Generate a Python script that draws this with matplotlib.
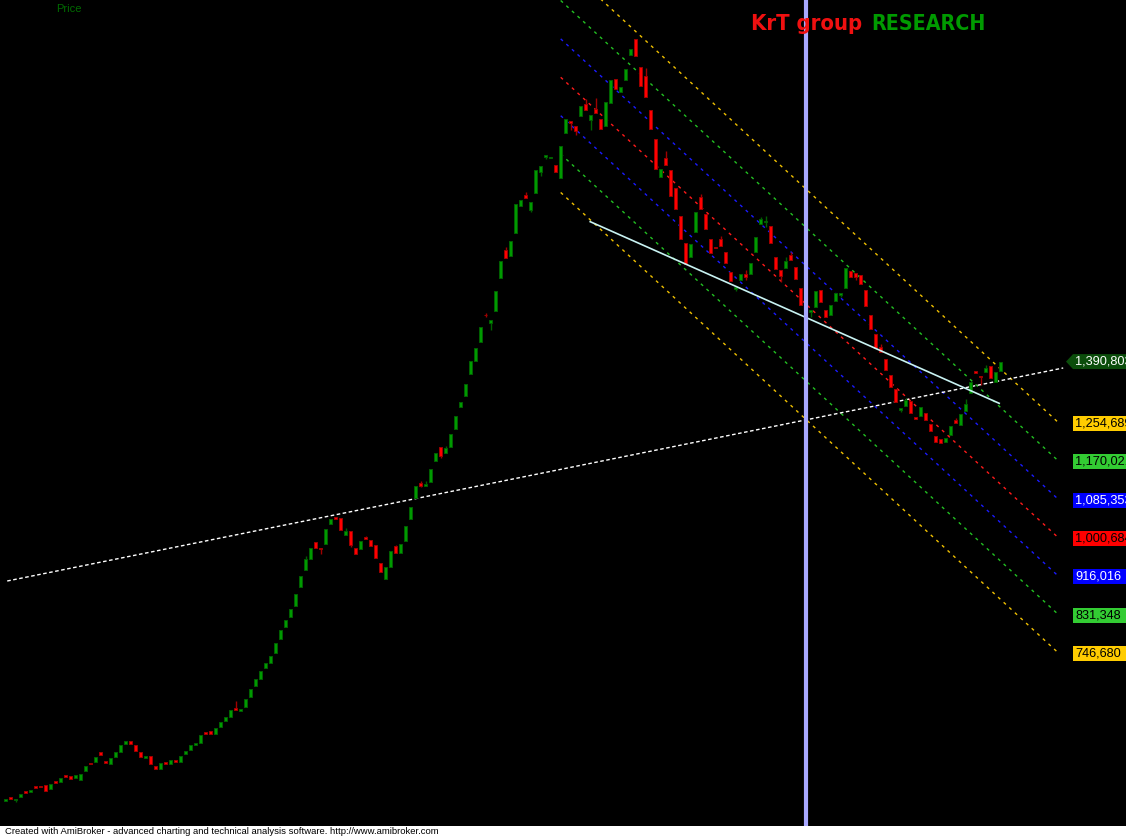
import matplotlib
matplotlib.use("Agg")
import matplotlib.pyplot as plt
from matplotlib import font_manager
from matplotlib.patches import Rectangle, Polygon
from matplotlib.transforms import blended_transform_factory

# ── data (prices in thousands) ───────────────────────────────────────────────

opens = [
    423.0, 430.1, 424.1, 431.4, 443.3, 441.1, 455.0, 455.0, 456.5, 449.0,
    466.0, 464.5, 478.6, 476.4, 473.3, 467.5, 488.7, 506.3, 508.5, 529.9,
    510.1, 504.1, 518.3, 530.6, 546.9, 553.5, 544.7, 529.3, 517.4, 521.1,
    499.1, 493.1, 507.9, 502.8, 512.3, 508.5, 524.9, 535.0, 546.0, 550.5,
    574.0, 575.6, 570.3, 585.7, 599.0, 607.8, 627.6, 621.0, 628.5, 651.9,
    676.1, 690.2, 714.5, 726.8, 748.9, 779.8, 804.9, 828.3, 852.5, 893.1,
    931.9, 956.2, 993.0, 979.8, 989.2, 1033.3, 1047.5, 1045.3, 1009.1, 1016.5,
    979.1, 978.2, 1004.0, 997.4, 986.4, 946.7, 912.1, 938.5, 984.2, 969.4,
    995.9, 1044.4, 1090.7, 1123.7, 1117.2, 1126.0, 1172.3, 1201.8, 1189.9, 1203.1,
    1242.8, 1291.3, 1315.6, 1364.1, 1392.8, 1434.7, 1494.2, 1476.5, 1503.0, 1575.8,
    1636.8, 1623.6, 1675.0, 1734.5, 1758.1, 1725.0, 1763.2, 1808.8, 1842.6, 1840.4,
    1824.3, 1796.3, 1894.2, 1921.3, 1910.3, 1933.0, 1958.8, 1923.5, 1947.8, 1925.0,
    1910.3, 1961.6, 2013.9, 1985.9, 2011.7, 2067.5, 2102.1, 2040.4, 2021.2, 1945.5,
    1881.6, 1797.8, 1839.7, 1813.2, 1773.6, 1711.8, 1652.9, 1622.1, 1675.9, 1753.1,
    1715.6, 1661.1, 1643.5, 1661.1, 1632.4, 1587.7, 1551.5, 1571.4, 1583.3, 1584.6,
    1633.1, 1694.8, 1697.9, 1689.1, 1620.7, 1592.7, 1596.5, 1625.8, 1598.7, 1552.4,
    1497.9, 1500.8, 1511.8, 1548.6, 1504.5, 1494.2, 1525.1, 1537.6, 1553.7, 1590.5,
    1585.5, 1581.7, 1548.6, 1493.5, 1451.6, 1423.6, 1396.5, 1361.2, 1330.4, 1284.0,
    1293.5, 1303.9, 1268.0, 1271.5, 1276.8, 1253.2, 1226.7, 1219.4, 1214.1, 1229.6,
    1262.0, 1251.6, 1281.8, 1320.9, 1370.0, 1359.0, 1368.5, 1380.4, 1346.5, 1370.7,
]

closes = [
    426.3, 425.6, 427.0, 438.0, 438.9, 446.1, 451.2, 452.8, 444.6, 459.4,
    461.0, 471.9, 474.8, 471.1, 478.6, 481.4, 498.4, 502.8, 518.3, 524.0,
    505.0, 516.0, 529.3, 544.7, 554.2, 548.2, 532.8, 518.3, 520.5, 502.8,
    493.1, 505.7, 502.8, 511.6, 507.2, 521.1, 532.1, 545.4, 549.1, 567.4,
    570.3, 569.0, 582.9, 595.4, 606.4, 622.5, 623.2, 625.4, 646.1, 668.2,
    690.2, 707.9, 725.5, 741.0, 769.6, 798.3, 820.3, 844.6, 877.7, 918.0,
    954.8, 979.1, 979.8, 976.9, 1021.0, 1043.0, 1044.4, 1020.1, 1017.2, 986.4,
    967.2, 995.2, 999.6, 984.8, 958.4, 926.2, 937.2, 972.5, 969.4, 987.9,
    1028.3, 1069.5, 1116.5, 1117.2, 1120.2, 1154.0, 1188.6, 1183.3, 1200.3, 1231.1,
    1270.8, 1301.7, 1341.4, 1392.1, 1420.8, 1467.1, 1492.9, 1482.5, 1546.4, 1612.6,
    1619.9, 1656.7, 1738.3, 1747.1, 1752.2, 1742.7, 1813.2, 1822.1, 1846.3, 1842.6,
    1809.5, 1866.2, 1925.7, 1916.2, 1899.9, 1954.4, 1945.5, 1934.5, 1939.6, 1903.7,
    1963.9, 2011.7, 1991.9, 1996.9, 2035.3, 2080.7, 2065.3, 1998.5, 1974.9, 1903.0,
    1814.8, 1815.5, 1824.9, 1756.6, 1726.6, 1661.8, 1606.6, 1650.1, 1720.0, 1727.9,
    1683.8, 1630.9, 1640.6, 1646.3, 1607.5, 1569.1, 1555.9, 1583.9, 1578.0, 1607.5,
    1664.9, 1704.5, 1700.8, 1651.6, 1594.3, 1580.2, 1612.6, 1614.8, 1572.2, 1514.9,
    1492.0, 1504.5, 1546.4, 1522.9, 1489.8, 1515.6, 1541.4, 1541.4, 1597.2, 1578.0,
    1577.3, 1561.2, 1514.0, 1462.0, 1420.1, 1411.3, 1372.9, 1335.4, 1301.0, 1288.5,
    1306.1, 1278.1, 1263.5, 1290.7, 1262.7, 1238.4, 1214.1, 1211.9, 1223.0, 1248.8,
    1256.0, 1275.2, 1297.3, 1345.8, 1366.3, 1356.1, 1376.7, 1355.3, 1367.2, 1390.8,
]

# shadows that stick out of the body
wick_high = {
    46: 642.4, 60: 962.1, 68: 1023.9, 72: 1006.9, 78: 987.0, 83: 1127.5,
    84: 1128.2, 88: 1204.7, 96: 1497.9, 100: 1644.1, 104: 1765.4, 116: 1969.1,
    118: 1972.7, 128: 2038.8, 132: 1855.1, 139: 1760.3, 143: 1667.7, 148: 1592.7,
    151: 1708.9, 152: 1711.8, 156: 1620.7, 157: 1633.1, 175: 1429.6, 180: 1309.8,
    190: 1265.7, 192: 1307.6, 196: 1383.3,
}
wick_low = {
    2: 420.8, 63: 966.5, 69: 982.6, 83: 1114.3, 87: 1178.2, 96: 1489.1,
    97: 1460.4, 105: 1721.3, 107: 1800.7, 108: 1836.8, 113: 1901.5, 114: 1890.4,
    117: 1901.5, 146: 1547.1, 148: 1570.7, 152: 1688.2, 155: 1566.9, 161: 1489.8,
    167: 1533.9, 170: 1570.7, 179: 1280.3, 195: 1339.2,
}

# standard deviation channel
channel_bars = [111, 210.7]
channel_start = [2271.7, 2187.0, 2102.4, 2017.7, 1933.0, 1848.4, 1763.7]
channel_end = [1254.689, 1170.021, 1085.353, 1000.684, 916.016, 831.348, 746.680]
channel_labels = ["1,254,689", "1,170,021", "1,085,353", "1,000,684",
                  "916,016", "831,348", "746,680"]
channel_colors = ["#f0c000", "#22c022", "#1a1aff", "#ff1a1a",
                  "#1a1aff", "#22c022", "#f0c000"]
label_bg = ["#ffcc00", "#33cc33", "#0000ff", "#ff0000",
            "#0000ff", "#33cc33", "#ffcc00"]
label_fg = ["black", "black", "white", "black", "white", "black", "black"]

# long dotted trend line and short solid line
trend_bars = [0.3, 211.5]
trend_vals = [907.0, 1376.7]
cyan_bars = [116.9, 198.7]
cyan_vals = [1699.3, 1298.8]

marker_bar = 160
last_value = 1390.8
last_label = "1,390,803"

UP_BODY, UP_EDGE = "#009a00", "#006000"
DN_BODY, DN_EDGE = "#ff0000", "#a00000"


def _title_font():
    """Pick the narrowest bold face that is installed."""
    fonts = font_manager.fontManager.ttflist
    for f in fonts:
        if f.name == "Liberation Sans Narrow":
            return dict(family="Liberation Sans Narrow")
    for f in fonts:
        if f.name == "DejaVu Sans" and "condensed" in str(f.stretch):
            return dict(family="DejaVu Sans", fontstretch="condensed")
    return dict(family="Roboto")


# ── figure ───────────────────────────────────────────────────────────────────

W, H = 1126, 839
fig = plt.figure(figsize=(W / 100, H / 100), dpi=100, facecolor="white")
ax = fig.add_axes([0, 13 / H, 1, 826 / H])
ax.set_facecolor("black")
ax.set_xlim(-1.14, 224.06)
ax.set_ylim(366.8, 2188.1)
ax.set_xticks([])
ax.set_yticks([])
for s in ax.spines.values():
    s.set_visible(False)

# channel lines
for s0, s1, col in zip(channel_start, channel_end, channel_colors):
    ax.plot(channel_bars, [s0, s1], color=col, lw=1.0,
            linestyle=(0, (2.2, 3.3)), zorder=2)

# trend lines
ax.plot(trend_bars, trend_vals, color="white", lw=1.0,
        linestyle=(0, (2.6, 1.8)), zorder=2)
ax.plot(cyan_bars, cyan_vals, color="#c8f2f2", lw=1.2, zorder=4)

# vertical marker
ax.axvline(marker_bar, color="#a8a8ff", lw=3.0, zorder=5)

# candles
for i, (o, c) in enumerate(zip(opens, closes)):
    up = c >= o
    body = UP_BODY if up else DN_BODY
    edge = UP_EDGE if up else DN_EDGE
    lo, hi = min(o, c), max(o, c)
    h = wick_high.get(i, hi)
    l = wick_low.get(i, lo)
    if h > hi:
        ax.vlines(i, hi, h, color=edge, lw=1.0, zorder=3)
    if l < lo:
        ax.vlines(i, l, lo, color=edge, lw=1.0, zorder=3)
    ax.bar(i, hi - lo, bottom=lo, width=0.62, color=body, edgecolor=edge,
           linewidth=0.7, zorder=3)

# right-hand value labels
tr = blended_transform_factory(ax.transAxes, ax.transData)
x_box = 1073 / W
half = 16.5
for v, txt, bg, fg in zip(channel_end, channel_labels, label_bg, label_fg):
    ax.add_patch(Rectangle((x_box, v - half), 1 - x_box, 2 * half,
                           transform=tr, facecolor=bg, edgecolor="none",
                           zorder=6, clip_on=False))
    ax.text(1075 / W, v, txt, transform=tr, color=fg, fontsize=9.2,
            family="Liberation Sans", va="center", ha="left", zorder=7)

tip = 1066 / W
ax.add_patch(Polygon([(tip, last_value), (x_box, last_value + half),
                      (1.0, last_value + half), (1.0, last_value - half),
                      (x_box, last_value - half)],
                     closed=True, transform=tr, facecolor="#0b4d0b",
                     edgecolor="none", zorder=6, clip_on=False))
ax.text(1075 / W, last_value, last_label, transform=tr, color="white",
        fontsize=9.2, family="Liberation Sans", va="center", ha="left", zorder=7)

# texts
fig.text(56 / W, 1 - 12 / H, "Price", color="#006a00", fontsize=8,
         family="Liberation Sans", va="baseline", ha="left")

tf = _title_font()
t1 = fig.text(751 / W, 1 - 30 / H, "KrT group", color="#f01010", fontsize=22,
              fontweight="bold", va="baseline", ha="left", **tf)
t2 = fig.text(871 / W, 1 - 30 / H, "RESEARCH", color="#009a00", fontsize=22,
              fontweight="bold", va="baseline", ha="left", **tf)
# shrink the title words to the widths they take in the picture
fig.canvas.draw()
r = fig.canvas.get_renderer()
for t, target in ((t1, 111), (t2, 114)):
    w = t.get_window_extent(r).width
    if w > target:
        t.set_fontsize(22 * target / w)

fig.text(5 / W, 2.5 / H,
         "Created with AmiBroker - advanced charting and technical analysis "
         "software. http://www.amibroker.com",
         color="black", fontsize=6.8, family="Liberation Sans",
         va="bottom", ha="left")

fig.savefig("out.png", dpi=100, facecolor="white")
